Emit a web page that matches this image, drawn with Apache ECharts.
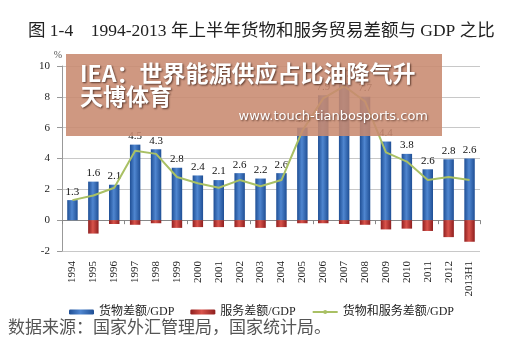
<!DOCTYPE html>
<html>
<head>
<meta charset="utf-8">
<script src="https://cdn.jsdelivr.net/npm/echarts@6/dist/echarts.min.js"></script>
<style>
  html, body { margin: 0; padding: 0; background: #fff; }
  #chart { width: 507px; height: 342px; }
</style>
</head>
<body>
<div id="chart"></div>
<script>
// 年份
const years = ['1994','1995','1996','1997','1998','1999','2000','2001','2002','2003',
  '2004','2005','2006','2007','2008','2009','2010','2011','2012','2013H1'];
// 货物差额/GDP
const goods = [1.3, 2.5, 2.3, 4.9, 4.6, 3.4, 2.9, 2.6, 3.05, 2.7,
  3.05, 6.0, 8.1, 8.9, 8.0, 5.1, 4.3, 3.3, 3.95, 4.0];
// 服务差额/GDP
const services = [0, -0.87, -0.25, -0.3, -0.2, -0.5, -0.45, -0.45, -0.45, -0.5,
  -0.45, -0.2, -0.2, -0.25, -0.3, -0.6, -0.55, -0.7, -1.1, -1.4];
// 货物和服务差额/GDP
const total = [1.3, 1.6, 2.1, 4.5, 4.3, 2.8, 2.4, 2.1, 2.6, 2.2,
  2.6, 5.8, 7.9, 8.7, 7.7, 4.4, 3.8, 2.6, 2.8, 2.6];
const yTicks = [-2, 0, 2, 4, 6, 8, 10];

const serif = '"Liberation Serif", "Noto Sans CJK SC", serif';
const cjk = '"Noto Sans CJK SC", sans-serif';

const blueGrad = new echarts.graphic.LinearGradient(0, 0, 1, 0, [
  { offset: 0, color: '#1f4f95' },
  { offset: 0.45, color: '#4f86d0' },
  { offset: 1, color: '#1f4f95' }
]);
const redGrad = new echarts.graphic.LinearGradient(0, 0, 1, 0, [
  { offset: 0, color: '#8e1e1e' },
  { offset: 0.45, color: '#d9534b' },
  { offset: 1, color: '#8e1e1e' }
]);

const chart = echarts.init(document.getElementById('chart'));
chart.setOption({
  animation: false,
  grid: { left: 62, right: 27, top: 66, bottom: 91 },
  legend: {
    left: 64, top: 301, itemWidth: 25, itemHeight: 5, itemGap: 16,
    textStyle: { fontFamily: serif, fontSize: 12, color: '#222' },
    data: ['货物差额/GDP', '服务差额/GDP', '货物和服务差额/GDP']
  },
  xAxis: [
    {
      type: 'category', data: years,
      axisLine: { onZero: true, lineStyle: { color: '#888' } },
      axisTick: { show: true, length: 4, lineStyle: { color: '#888' } },
      axisLabel: { show: false }
    },
    {
      type: 'category', data: years, position: 'bottom',
      axisLine: { show: false, onZero: false },
      axisTick: { show: false },
      axisLabel: {
        rotate: 90, margin: 10, fontFamily: serif, fontSize: 11, color: '#222'
      }
    }
  ],
  yAxis: {
    type: 'value', min: yTicks[0], max: yTicks[yTicks.length - 1], interval: 2,
    name: '%', nameGap: 4,
    nameTextStyle: { fontFamily: serif, fontSize: 10, color: '#555', align: 'right' },
    axisLine: { show: true, lineStyle: { color: '#999' } },
    axisTick: { show: true, length: 5, lineStyle: { color: '#999' } },
    axisLabel: { fontFamily: serif, fontSize: 11, color: '#222', margin: 12 },
    splitLine: { lineStyle: { color: '#c8c8c8' } }
  },
  series: [
    {
      name: '货物差额/GDP', type: 'bar', data: goods, barWidth: '50%', barGap: '-100%',
      itemStyle: { color: blueGrad },
      label: {
        show: true, position: 'top', distance: 3,
        formatter: p => total[p.dataIndex].toFixed(1),
        fontFamily: serif, fontSize: 11, color: '#111'
      }
    },
    {
      name: '服务差额/GDP', type: 'bar', data: services, barWidth: '50%',
      itemStyle: { color: redGrad }
    },
    {
      name: '货物和服务差额/GDP', type: 'line', data: total, symbol: 'none',
      lineStyle: { color: '#a9c064', width: 2 }, itemStyle: { color: '#a9c064' },
      z: 5
    }
  ],
  graphic: [
    {
      type: 'text', left: 28, top: 23,
      style: {
        text: '图 1-4    1994-2013 年上半年货物和服务贸易差额与 GDP 之比',
        font: '17.5px ' + serif, fill: '#222'
      }
    },
    {
      type: 'rect', left: 66, top: 54, z: 100,
      shape: { width: 376, height: 82 },
      style: { fill: 'rgba(200,138,112,0.88)' }
    },
    {
      type: 'text', left: 80, top: 62, z: 101,
      style: {
        text: 'IEA：世界能源供应占比油降气升\n天博体育',
        font: 'bold 23px ' + cjk, lineHeight: 23, fill: '#fff',
        textShadowColor: 'rgba(60,30,20,0.8)', textShadowBlur: 2,
        textShadowOffsetX: 1, textShadowOffsetY: 1
      }
    },
    {
      type: 'text', right: 79, top: 110, z: 101,
      style: {
        text: 'www.touch-tianbosports.com',
        font: '13px "DejaVu Sans", sans-serif', fill: '#fff',
        textShadowColor: 'rgba(60,30,20,0.7)', textShadowBlur: 2,
        textShadowOffsetX: 1, textShadowOffsetY: 1
      }
    },
    {
      type: 'text', left: 8, top: 318,
      style: {
        text: '数据来源：国家外汇管理局，国家统计局。',
        font: '17px ' + cjk, fill: '#555'
      }
    }
  ]
});
</script>
</body>
</html>
